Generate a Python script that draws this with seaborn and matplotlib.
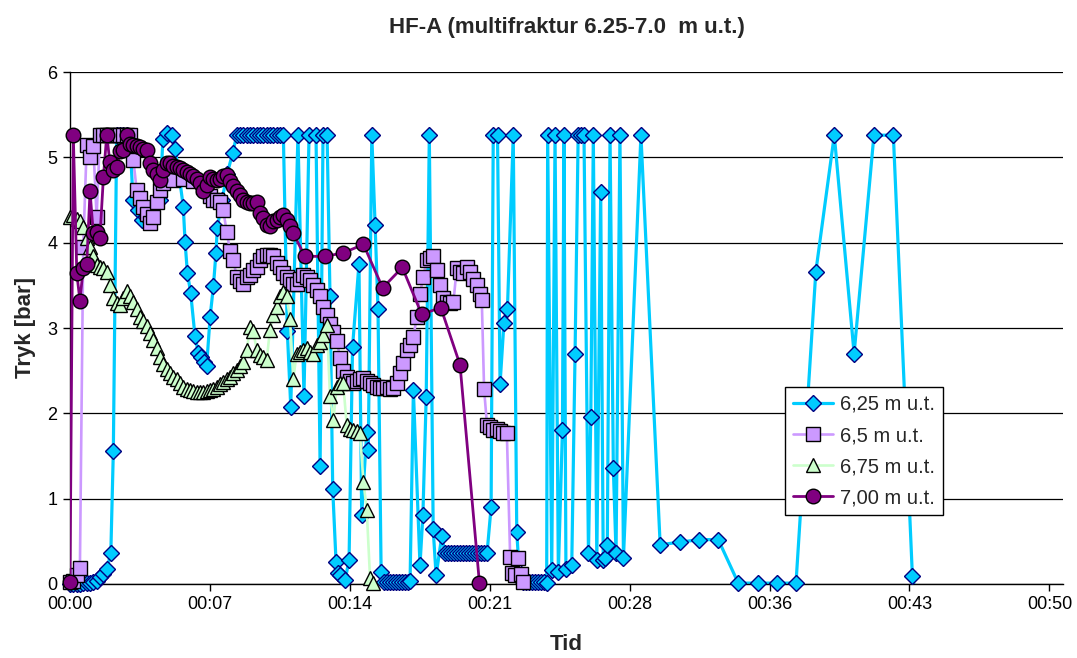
import numpy as np
import matplotlib
matplotlib.use("Agg")
import matplotlib.pyplot as plt
from matplotlib.lines import Line2D
import seaborn as sns

sns.set_theme(style="white")
plt.rcParams["font.family"] = ["Liberation Sans", "DejaVu Sans"]

# ---------------------------------------------------------------------------
# Pressure logs: elapsed time in minutes, pressure in bar
# ---------------------------------------------------------------------------

# fast logging grid used during the first quarter hour
t_fast = [0.00, 0.17, 0.35, 0.51, 0.68, 0.86, 1.03, 1.20, 1.37, 1.54,
          1.72, 1.89, 2.05, 2.23, 2.40, 2.58, 2.74, 2.91, 3.09, 3.26,
          3.43, 3.60, 3.77, 3.95, 4.12, 4.28, 4.47, 4.63, 4.80, 4.98,
          5.15, 5.31, 5.49, 5.66, 5.83, 6.00, 6.17, 6.35, 6.52, 6.69,
          6.86, 7.03, 7.21, 7.38, 7.55, 7.72, 7.89, 8.06, 8.24, 8.40,
          8.58, 8.75, 8.92, 9.10, 9.26, 9.43, 9.61, 9.78, 9.95, 10.12,
          10.29, 10.47, 10.64, 10.80, 10.98, 11.15, 11.32, 11.49, 11.66, 11.84,
          12.01, 12.18, 12.35, 12.52, 12.69, 12.87, 13.03, 13.22, 13.38, 13.55,
          13.73, 13.90, 14.06, 14.24, 14.41, 14.58, 14.75, 14.92, 15.10, 15.27,
          15.44, 15.61]

# 6,25 m u.t.
t_625 = [0.00, 0.17, 0.35, 0.51, 0.68, 0.86, 1.03, 1.19, 1.37, 1.54, 1.70, 1.89, 2.10, 2.23, 2.40,
         2.58, 2.74, 2.91, 3.09, 3.24, 3.50, 3.69, 3.91, 4.17, 4.43, 4.63, 4.78, 4.99, 5.23, 5.41,
         5.61, 5.83, 5.92, 6.04, 6.21, 6.43, 6.60, 6.73, 6.87, 7.03, 7.21, 7.38, 7.51, 7.58, 7.82, 8.08, 8.37,
         8.58, 8.75, 8.92, 9.10, 9.26, 9.43, 9.61, 9.78, 9.95, 10.12, 10.29, 10.47, 10.64, 10.80, 10.98,
         11.18, 11.36, 11.73, 12.04, 12.30, 12.66, 12.87, 13.02, 13.23, 13.38, 13.52, 13.69, 13.79, 13.90,
         14.16, 14.36, 14.54, 14.87, 15.01, 15.27, 15.35, 15.53, 15.70, 15.85, 16.01,
         16.16, 16.31, 16.47, 16.62, 16.77, 16.94, 17.09, 17.24, 17.40, 17.50,
         17.67, 18.01, 18.16, 18.33, 18.49, 18.69, 18.84, 19.13,
         19.30, 19.45, 19.60, 19.77, 19.92, 20.07, 20.23, 20.38, 20.53, 20.69, 20.84, 20.99, 21.15, 21.31, 21.46,
         21.67, 21.78, 22.00, 22.13, 22.33, 22.51, 22.81, 22.99, 23.12,
         23.31, 23.47, 23.62, 23.77, 23.93, 24.08, 24.24, 24.40, 24.53,
         24.58, 24.79, 24.96, 25.13, 25.34, 25.42, 25.52, 25.82, 25.99, 26.15, 26.30, 26.45, 26.68,
         26.80, 26.93, 27.11, 27.31, 27.44, 27.54, 27.65, 27.79, 27.96, 28.10, 28.30, 28.48,
         29.38, 30.37, 31.40, 32.39, 33.36, 34.39, 35.38, 36.37, 37.36, 38.38, 39.33, 40.35, 41.37,
         42.37, 43.35, 44.36]
p_625 = [0.00, 0.00, 0.00, 0.00, 0.01, 0.01, 0.01, 0.02, 0.04, 0.08, 0.12, 0.17, 0.36, 1.56, 5.26,
         5.26, 5.26, 5.26, 5.20, 4.50, 4.38, 4.27, 4.30, 4.40, 4.45, 4.50, 5.22, 5.28, 5.26, 5.10,
         4.80, 4.42, 4.01, 3.65, 3.41, 2.91, 2.71, 2.66, 2.60, 2.55, 3.13, 3.49, 3.88, 4.17, 4.50, 4.80, 5.05,
         5.26, 5.26, 5.26, 5.26, 5.26, 5.26, 5.26, 5.26, 5.26, 5.26, 5.26, 5.26, 5.26, 5.26, 5.26,
         2.97, 2.08, 5.26, 2.20, 5.26, 5.26, 1.38, 5.26, 5.26, 3.37, 1.11, 0.26, 0.13, 0.10,
         0.05, 0.28, 2.78, 3.75, 0.81, 1.78, 1.57, 5.26, 4.21, 3.22, 0.14,
         0.02, 0.02, 0.02, 0.02, 0.02, 0.02, 0.02, 0.02, 0.02, 0.03,
         2.27, 0.22, 0.81, 2.19, 5.26, 0.64, 0.10, 0.56,
         0.36, 0.36, 0.36, 0.36, 0.36, 0.36, 0.36, 0.36, 0.36, 0.36, 0.36, 0.36, 0.36, 0.36, 0.36,
         0.90, 5.26, 5.26, 2.34, 3.06, 3.22, 5.26, 0.61, 0.14,
         0.02, 0.02, 0.02, 0.02, 0.02, 0.02, 0.02, 0.02, 0.01,
         5.26, 0.16, 5.26, 0.14, 1.80, 5.26, 0.18, 0.22, 2.70, 5.26, 5.26, 5.26, 0.36,
         1.96, 5.26, 0.28, 4.59, 0.28, 0.30, 0.46, 5.26, 1.36, 0.36, 5.26, 0.30,
         5.26, 0.46, 0.49, 0.52, 0.52, 0.01, 0.01, 0.01, 0.01, 3.66, 5.26, 2.70, 5.26,
         5.26, 0.09, -1.20]

# 6,5 m u.t.
t_650 = [0.00, 0.17, 0.35, 0.51, 0.68, 0.86, 1.03, 1.20, 1.37, 1.54, 1.72, 1.89, 2.05, 2.23, 2.40,
         2.58, 2.74, 2.91, 3.09,
         3.26, 3.43, 3.60, 3.77, 3.95, 4.12, 4.28, 4.47, 4.63, 4.80,
         5.31, 5.83, 6.34, 6.85, 7.21, 7.38, 7.55, 7.72, 7.89, 8.06, 8.24, 8.40, 8.58, 8.75, 8.92, 9.10,
         9.26, 9.43, 9.61, 9.78, 9.95, 10.12, 10.29, 10.47, 10.64, 10.80, 10.98, 11.15, 11.32, 11.49,
         11.66, 11.84, 12.01, 12.18, 12.35, 12.52, 12.69, 12.87, 13.03, 13.22,
         13.38, 13.55, 13.73, 13.90, 14.06, 14.24, 14.41, 14.58, 14.75, 14.92, 15.10, 15.27, 15.44,
         15.61, 15.78, 15.96, 16.13, 16.30, 16.47, 16.64, 16.81,
         16.99, 17.15, 17.32, 17.50, 17.67, 17.85, 18.01, 18.18, 18.36, 18.53, 18.70, 18.87, 19.04,
         19.22, 19.39, 19.55, 19.73, 19.90, 20.07, 20.24, 20.41, 20.59, 20.76, 20.93, 21.10, 21.19,
         21.31, 21.46, 21.62, 21.79, 21.96, 22.13, 22.30, 22.48, 22.65, 22.75, 22.91, 23.06, 23.21, 23.33]
p_650 = [0.02, 0.03, 0.10, 0.19, 3.95, 5.14, 5.00, 5.13, 4.30, 5.26, 5.26, 5.26, 5.26, 5.26, 5.26,
         5.26, 5.26, 5.26, 5.26,
         4.97, 4.62, 4.52, 4.42, 4.34, 4.23, 4.30, 4.48, 4.62, 4.70,
         4.74, 4.75, 4.72, 4.65, 4.55, 4.50, 4.50, 4.48, 4.38, 4.13, 3.90, 3.80, 3.60, 3.55, 3.52, 3.60,
         3.62, 3.68, 3.72, 3.80, 3.84, 3.86, 3.85, 3.84, 3.76, 3.72, 3.64, 3.60, 3.56, 3.52,
         3.52, 3.58, 3.62, 3.60, 3.56, 3.50, 3.45, 3.37, 3.25, 3.15,
         3.05, 2.95, 2.85, 2.65, 2.50, 2.43, 2.38, 2.35, 2.38, 2.40, 2.41, 2.38, 2.35,
         2.33, 2.31, 2.30, 2.30, 2.31, 2.28, 2.30, 2.35,
         2.47, 2.59, 2.74, 2.80, 2.90, 3.13, 3.40, 3.60, 3.80, 3.82, 3.84, 3.68, 3.50,
         3.35, 3.30, 3.29, 3.30, 3.70, 3.66, 3.64, 3.72, 3.66, 3.58, 3.50, 3.40, 3.33,
         2.28, 1.86, 1.84, 1.80, 1.82, 1.79, 1.77, 1.77, 0.32, 0.13, 0.10, 0.30, 0.12, 0.02]

# 6,75 m u.t. (logged on the fast grid only)
p_675 = [4.30, 4.32, 4.28, 4.25, 4.18, 4.05, 3.95, 3.84, 3.74, 3.72,
         3.70, 3.66, 3.50, 3.35, 3.29, 3.27, 3.35, 3.43, 3.37, 3.30,
         3.22, 3.13, 3.08, 3.02, 2.94, 2.86, 2.76, 2.66, 2.58, 2.52,
         2.47, 2.43, 2.40, 2.35, 2.31, 2.29, 2.27, 2.26, 2.25, 2.25,
         2.25, 2.26, 2.27, 2.29, 2.31, 2.34, 2.37, 2.40, 2.43, 2.47,
         2.51, 2.56, 2.60, 2.74, 3.01, 2.96, 2.74, 2.68, 2.66, 2.62,
         2.98, 3.15, 3.25, 3.37, 3.42, 3.37, 3.11, 2.40, 2.70, 2.72,
         2.74, 2.76, 2.72, 2.70, 2.80, 2.84, 2.92, 3.04, 2.20, 1.92,
         2.31, 2.35, 2.35, 1.86, 1.82, 1.80, 1.79, 1.77, 1.20, 0.87,
         0.07, 0.01]
t_675 = t_fast[:len(p_675)]

# 7,00 m u.t. (fast grid first, then one reading per minute)
p_700_fast = [0.02, 5.26, 3.64, 3.32, 3.70, 3.75, 4.60, 4.11, 4.13, 4.06,
              4.77, 5.26, 4.95, 4.85, 4.89, 5.07, 5.09, 5.26, 5.16, 5.15,
              5.13, 5.12, 5.10, 5.09, 4.93, 4.85, 4.81, 4.73, 4.85, 4.93,
              4.93, 4.90, 4.89, 4.87, 4.85, 4.83, 4.81, 4.78, 4.75, 4.70,
              4.60, 4.68, 4.77, 4.75, 4.73, 4.75, 4.78, 4.79, 4.72, 4.66,
              4.60, 4.56, 4.50, 4.48, 4.46, 4.47, 4.48, 4.35, 4.29, 4.21,
              4.19, 4.25, 4.27, 4.30, 4.32, 4.27, 4.20, 4.11]
t_700_slow = [12.09, 13.12, 14.06, 15.10, 16.09, 17.10, 18.10, 19.08, 20.07, 21.07]
p_700_slow = [3.84, 3.84, 3.88, 3.98, 3.47, 3.71, 3.16, 3.24, 2.57, 0.01]
t_700 = t_fast[:len(p_700_fast)] + t_700_slow
p_700 = p_700_fast + p_700_slow

labels = ["6,25 m u.t.", "6,5 m u.t.", "6,75 m u.t.", "7,00 m u.t."]

# time axis: major unit 7.2 min (0.005 day), labels shown as hh:mm
x_tick_min = [0.0, 7.2, 14.4, 21.6, 28.8, 36.0, 43.2, 50.4]
x_ticklabels = ["00:00", "00:07", "00:14", "00:21", "00:28", "00:36", "00:43", "00:50"]
x_max = 51.1

for a, b in [(t_625, p_625), (t_650, p_650), (t_675, p_675), (t_700, p_700)]:
    assert len(a) == len(b)

# ---------------------------------------------------------------------------
# Styling per sensor
# ---------------------------------------------------------------------------
styles = [
    dict(line="#00CCFF", lw=2.3, marker="D", ms=8.0, fc="#00CCFF", ec="#000080", mew=1.0),
    dict(line="#CC99FF", lw=1.9, marker="s", ms=10.0, fc="#CC99FF", ec="#000000", mew=1.0),
    dict(line="#CCFFCC", lw=1.9, marker="^", ms=10.5, fc="#CCFFCC", ec="#000000", mew=1.0),
    dict(line="#800080", lw=2.0, marker="o", ms=10.5, fc="#800080", ec="#000000", mew=1.0),
]
series = [(t_625, p_625), (t_650, p_650), (t_675, p_675), (t_700, p_700)]

fig = plt.figure(figsize=(10.77, 6.58), dpi=100)
ax = fig.add_axes([0.065, 0.1125, 0.922, 0.778])

z = 2
for (tt, pp), st in zip(series, styles):
    tt = np.asarray(tt, float)
    pp = np.asarray(pp, float)
    # connecting line, clipped to the plot area
    sns.lineplot(x=tt, y=pp, ax=ax, color=st["line"], linewidth=st["lw"],
                 estimator=None, sort=False, legend=False, zorder=z)
    # markers, allowed to overhang the axis
    keep = pp >= 0
    sns.lineplot(x=tt[keep], y=pp[keep], ax=ax, color=st["line"], linestyle="none",
                 marker=st["marker"], markersize=st["ms"], markerfacecolor=st["fc"],
                 markeredgecolor=st["ec"], markeredgewidth=st["mew"],
                 estimator=None, sort=False, legend=False, zorder=z + 1, clip_on=False)
    z += 2

# axes
ax.set_xlim(0, x_max)
ax.set_ylim(0, 6)
ax.set_xticks(x_tick_min)
ax.set_xticklabels(x_ticklabels)
ax.set_yticks(range(7))
ax.set_xlabel("")
ax.set_ylabel("")
ax.grid(axis="y", color="black", linewidth=0.9)
ax.grid(axis="x", visible=False)
ax.set_axisbelow(True)
for side in ("top", "right"):
    ax.spines[side].set_visible(False)
for side in ("left", "bottom"):
    ax.spines[side].set_color("black")
    ax.spines[side].set_linewidth(1.0)
ax.tick_params(axis="both", which="major", bottom=True, left=True, direction="out",
               length=5, width=1, color="black", labelsize=13, labelcolor="black", pad=4)

# titles
cx = 0.065 + 0.922 / 2
fig.text(cx, 1 - 28 / 658, "HF-A (multifraktur 6.25-7.0  m u.t.)", ha="center", va="center",
         fontsize=16, fontweight="bold")
fig.text(cx, 1 - 645 / 658, "Tid", ha="center", va="center", fontsize=16, fontweight="bold")
fig.text(0.024, 1 - 327 / 658, "Tryk [bar]", ha="center", va="center", rotation=90,
         fontsize=16, fontweight="bold")

# legend
handles = [Line2D([], [], color=st["line"], linewidth=st["lw"], marker=st["marker"],
                  markersize=st["ms"], markerfacecolor=st["fc"], markeredgecolor=st["ec"],
                  markeredgewidth=st["mew"]) for st in styles]
leg = ax.legend(handles, labels, loc="upper left", bbox_to_anchor=(0.72, 0.385),
                fontsize=14.5, frameon=True, fancybox=False, framealpha=1, edgecolor="black",
                handlelength=2.0, handletextpad=0.35, borderpad=0.4, labelspacing=0.6,
                borderaxespad=0)
leg.get_frame().set_linewidth(1.0)
leg.set_zorder(30)

fig.savefig("out.png", dpi=100)
